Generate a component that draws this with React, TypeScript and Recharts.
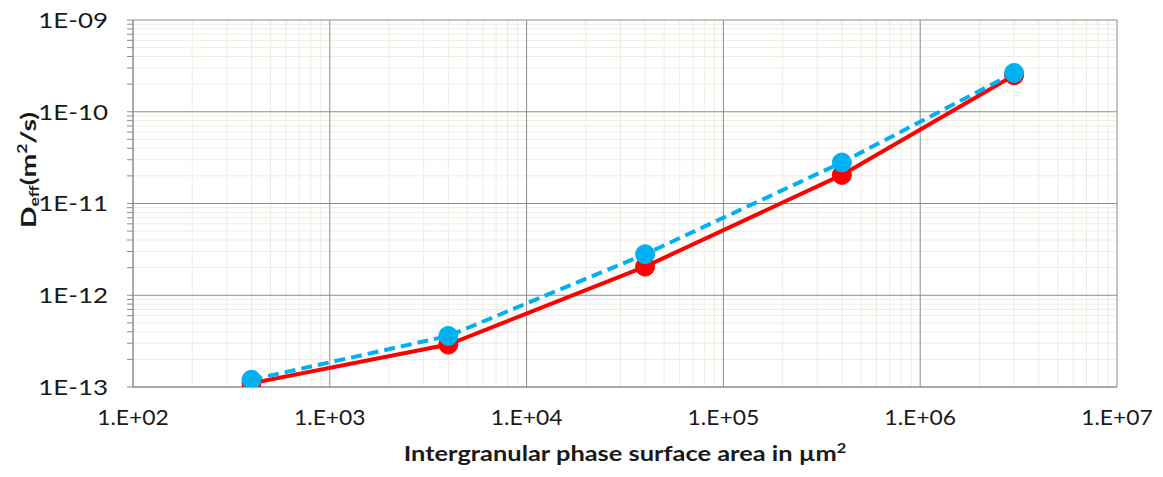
import React from "react";
import { LineChart, Line, XAxis, YAxis, CartesianGrid } from "recharts";

// ---- data ----
const areaValues = [400, 4000, 40000, 400000, 3000000];
const redSeriesValues = [1.1e-13, 2.9e-13, 2.05e-12, 2.05e-11, 2.5e-10];
const blueSeriesValues = [1.2e-13, 3.6e-13, 2.8e-12, 2.8e-11, 2.65e-10];

const xMajorTicks = [1e2, 1e3, 1e4, 1e5, 1e6, 1e7];
const xTickLabels = ["1.E+02", "1.E+03", "1.E+04", "1.E+05", "1.E+06", "1.E+07"];
const yMajorTicks = [1e-13, 1e-12, 1e-11, 1e-10, 1e-9];
const yTickLabels = ["1E-13", "1E-12", "1E-11", "1E-10", "1E-09"];
const minorMultipliers = [2, 3, 4, 5, 6, 7, 8, 9];

const data = areaValues.map((x, i) => ({
  x,
  red: redSeriesValues[i],
  blue: blueSeriesValues[i],
}));

const minorOf = (majors: number[]) =>
  majors.slice(0, -1).flatMap((m) => minorMultipliers.map((k) => m * k));
const xMinor = minorOf(xMajorTicks);
const yMinor = minorOf(yMajorTicks);
const yAllTicks = [...yMajorTicks, ...yMinor].sort((a, b) => a - b);
const xAllTicks = [...xMajorTicks, ...xMinor].sort((a, b) => a - b);

const labelFor = (v: number, majors: number[], labels: string[]) => {
  const i = majors.findIndex((m) => Math.abs(Math.log10(m) - Math.log10(v)) < 1e-6);
  return i >= 0 ? labels[i] : "";
};

const FONT = "Lato, 'Open Sans', sans-serif";
const MAJOR = "#8C8C8C";
const MINOR = "#EEECE1";
const TEXT = "#1a1a1a";

const XTick = (props: any) => {
  const { x, y, payload } = props;
  const t = labelFor(payload.value, xMajorTicks, xTickLabels);
  if (!t) return <g />;
  return (
    <text transform={`translate(${x} ${y}) scale(1.04 1)`} dy="0.72em" textAnchor="middle" fontFamily={FONT} fontSize={22} fill={TEXT}>
      {t}
    </text>
  );
};

const YTick = (props: any) => {
  const { x, y, payload } = props;
  const t = labelFor(payload.value, yMajorTicks, yTickLabels);
  if (!t) return <g />;
  return (
    <text transform={`translate(${x} ${y}) scale(1.18 1)`} dy="0.36em" textAnchor="end" fontFamily={FONT} fontSize={22} fill={TEXT}>
      {t}
    </text>
  );
};

const XTitle = (props: any) => {
  const vb = props.viewBox || { x: 133, y: 387, width: 984 };
  const cx = vb.x + vb.width / 2;
  return (
    <text transform={`translate(${cx} ${vb.y + 74}) scale(1.27 1)`} textAnchor="middle" fontFamily={FONT} fontWeight="bold" fontSize={20} fill={TEXT}>
      <tspan>Intergranular phase surface area in µm</tspan>
      <tspan fontSize={13} dy={-8}>2</tspan>
    </text>
  );
};

const YTitle = () => {
  return (
    <text transform="translate(36 170) rotate(-90) scale(1.35 1)" textAnchor="middle" fontFamily={FONT} fontWeight="bold" fontSize={21} fill={TEXT}>
      <tspan>D</tspan>
      <tspan fontSize={13} dy={3}>eff</tspan>
      <tspan fontSize={21} dy={-3}>(m</tspan>
      <tspan fontSize={13} dy={-9}>2</tspan>
      <tspan fontSize={21} dy={9}>/s)</tspan>
    </text>
  );
};

const renderNothing = () => <g />;

export default function App() {
  return (
    <div style={{ position: "absolute", left: 0, top: 0, width: 1163, height: 477, background: "#fff" }}>
      <LineChart
        width={1163}
        height={477}
        data={data}
        margin={{ top: 20, right: 46, bottom: 0, left: 0 }}
      >
        <CartesianGrid
          horizontalValues={yMinor}
          verticalValues={xMinor}
          stroke={MINOR}
          strokeWidth={1}
        />
        <CartesianGrid
          horizontalValues={yMajorTicks}
          verticalValues={xMajorTicks}
          stroke={MAJOR}
          strokeWidth={1}
        />
        <XAxis
          dataKey="x"
          type="number"
          scale="log"
          domain={[1e2, 1e7]}
          allowDataOverflow
          ticks={xMajorTicks}
          tick={XTick}
          tickLine={false}
          tickMargin={16}
          axisLine={{ stroke: MAJOR }}
          height={90}
          interval={0}
          label={{ content: XTitle }}
        />
        <XAxis
          xAxisId="top"
          orientation="top"
          type="number"
          scale="log"
          domain={[1e2, 1e7]}
          allowDataOverflow
          ticks={xAllTicks}
          mirror
          tickSize={4}
          tick={renderNothing}
          tickLine={{ stroke: MAJOR }}
          axisLine={{ stroke: MAJOR }}
          height={0}
          interval={0}
        />
        <YAxis
          type="number"
          scale="log"
          domain={[1e-13, 1e-9]}
          allowDataOverflow
          ticks={yAllTicks}
          tick={YTick}
          tickSize={6}
          tickMargin={19}
          tickLine={{ stroke: MAJOR }}
          axisLine={{ stroke: MAJOR }}
          width={133}
          interval={0}
          label={{ content: YTitle }}
        />
        <Line
          type="linear"
          dataKey="red"
          name="Series 1"
          stroke="#FF0000"
          strokeWidth={4}
          dot={{ r: 9.5, fill: "#FF0000", stroke: "#FF0000", strokeWidth: 1 }}
          activeDot={false}
          isAnimationActive={false}
        />
        <Line
          type="linear"
          dataKey="blue"
          name="Series 2"
          stroke="#00B0F0"
          strokeWidth={4}
          strokeDasharray="11 6"
          dot={{ r: 9.5, fill: "#00B0F0", stroke: "#00B0F0", strokeWidth: 1, strokeDasharray: "0" }}
          activeDot={false}
          isAnimationActive={false}
        />
      </LineChart>
    </div>
  );
}
